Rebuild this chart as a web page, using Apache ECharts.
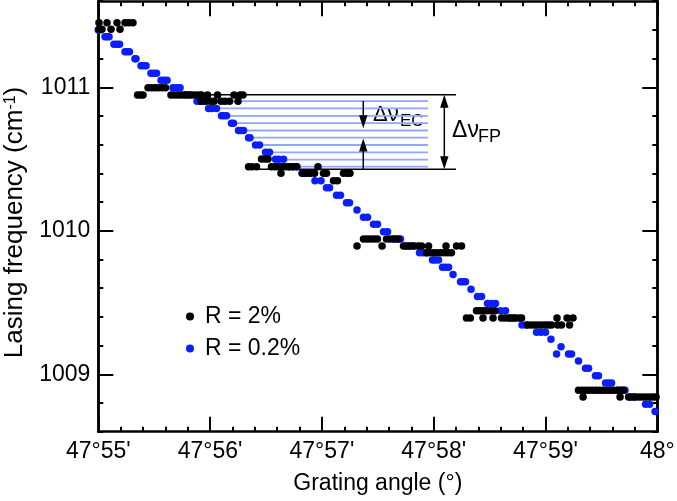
<!DOCTYPE html>
<html><head><meta charset="utf-8">
<script src="https://cdn.jsdelivr.net/npm/echarts@6/dist/echarts.min.js"></script>
<style>html,body{margin:0;padding:0;background:#fff}#c{width:677px;height:501px}</style>
</head><body><div id="c"></div>
<script>
// x values: minutes of arc after 47°55'
const xTickLabels = ["47°55'", "47°56'", "47°57'", "47°58'", "47°59'", "48°"];
const yMajorTicks = [1009, 1010, 1011];

const seriesR2 = [ // R = 2%
  [0.006,1011.450],[0.078,1011.450],[0.167,1011.450],[0.239,1011.450],[0.275,1011.450],[0.310,1011.450],
  [0.006,1011.404],[0.033,1011.404],[0.114,1011.404],[0.194,1011.404],
  [0.445,1010.997],[0.476,1010.997],[0.507,1010.997],[0.538,1010.997],[0.570,1010.997],[0.601,1010.997],
  [0.351,1010.946],[0.377,1010.946],[0.400,1010.946],[0.650,1010.946],[0.682,1010.946],[0.713,1010.946],[0.744,1010.946],
  [0.776,1010.946],[0.807,1010.946],[0.838,1010.946],[0.869,1010.946],[0.901,1010.946],[0.923,1010.946],[0.977,1010.946],
  [1.066,1010.946],[1.214,1010.946],[1.268,1010.946],[1.294,1010.946],
  [0.919,1010.902],[0.963,1010.902],[1.004,1010.902],[1.035,1010.902],[1.098,1010.902],[1.133,1010.902],[1.174,1010.902],[1.250,1010.902],
  [1.460,1010.500],[1.491,1010.500],[1.518,1010.500],
  [1.344,1010.447],[1.375,1010.447],[1.415,1010.447],[1.549,1010.447],[1.581,1010.447],[1.612,1010.447],[1.643,1010.447],
  [1.675,1010.447],[1.706,1010.447],[1.737,1010.447],[1.773,1010.447],[1.965,1010.447],
  [1.634,1010.401],[1.827,1010.401],[1.858,1010.401],[1.894,1010.401],[1.934,1010.401],[2.014,1010.401],[2.041,1010.401],
  [2.193,1010.401],[2.225,1010.401],[2.251,1010.401],
  [2.104,1010.349],[2.139,1010.349],
  [2.372,1009.943],[2.404,1009.943],[2.435,1009.943],[2.466,1009.943],[2.497,1009.943],[2.578,1009.943],[2.609,1009.943],
  [2.645,1009.943],[2.685,1009.943],
  [2.314,1009.894],[2.538,1009.894],[2.730,1009.894],[2.761,1009.894],[2.793,1009.894],[2.824,1009.894],[2.860,1009.894],
  [2.891,1009.894],[2.954,1009.894],[3.110,1009.894],[3.204,1009.894],[3.249,1009.894],
  [2.936,1009.847],[2.967,1009.847],[2.998,1009.847],[3.030,1009.847],[3.065,1009.847],[3.097,1009.847],[3.128,1009.847],[3.159,1009.847],
  [3.383,1009.443],[3.414,1009.443],[3.446,1009.443],[3.477,1009.443],[3.513,1009.443],[3.548,1009.443],
  [3.293,1009.392],[3.328,1009.392],[3.441,1009.392],[3.531,1009.392],[3.607,1009.392],[3.638,1009.392],[3.669,1009.392],
  [3.701,1009.392],[3.732,1009.392],[3.763,1009.392],[3.786,1009.392],[4.103,1009.392],[4.193,1009.392],[4.246,1009.392],
  [3.839,1009.344],[3.871,1009.344],[3.902,1009.344],[3.933,1009.344],[3.964,1009.344],[3.996,1009.344],[4.027,1009.344],
  [4.054,1009.344],[4.108,1009.344],[4.143,1009.344],[4.215,1009.344],
  [4.295,1008.889],[4.327,1008.889],[4.358,1008.889],[4.389,1008.889],[4.421,1008.889],[4.452,1008.889],[4.483,1008.889],
  [4.515,1008.889],[4.546,1008.889],[4.577,1008.889],[4.609,1008.889],[4.640,1008.889],[4.671,1008.889],[4.698,1008.889],
  [4.336,1008.842],[4.667,1008.842],[4.743,1008.842],[4.774,1008.842],[4.805,1008.842],[4.837,1008.842],[4.868,1008.842],
  [4.899,1008.842],[4.930,1008.842],[4.962,1008.842],[4.989,1008.842]
];

const seriesR02 = [ // R = 0.2%
  [0.000,1011.399],[0.015,1011.399],
  [0.060,1011.353],[0.078,1011.353],[0.096,1011.353],
  [0.140,1011.300],[0.167,1011.300],[0.190,1011.300],
  [0.239,1011.248],[0.257,1011.248],[0.279,1011.248],
  [0.328,1011.199],[0.337,1011.199],
  [0.382,1011.151],[0.404,1011.151],[0.427,1011.151],
  [0.471,1011.098],[0.498,1011.098],[0.521,1011.098],
  [0.561,1011.049],[0.588,1011.049],[0.615,1011.049],
  [0.668,1010.997],[0.700,1010.997],[0.731,1010.997],
  [0.776,1010.948],[0.811,1010.948],
  [0.883,1010.902],[0.910,1010.902],[0.937,1010.902],
  [0.986,1010.853],[1.017,1010.853],[1.057,1010.853],
  [1.102,1010.801],[1.124,1010.801],[1.147,1010.801],
  [1.191,1010.750],[1.209,1010.750],
  [1.254,1010.699],[1.276,1010.699],[1.299,1010.699],
  [1.344,1010.649],[1.357,1010.649],
  [1.406,1010.598],[1.442,1010.598],
  [1.496,1010.547],[1.531,1010.547],
  [1.585,1010.498],[1.616,1010.498],[1.657,1010.498],
  [1.706,1010.447],[1.742,1010.447],[1.777,1010.447],
  [1.822,1010.401],[1.858,1010.401],[1.894,1010.401],
  [1.938,1010.349],[1.992,1010.349],
  [2.041,1010.300],[2.068,1010.300],
  [2.131,1010.247],[2.166,1010.247],
  [2.220,1010.196],[2.247,1010.196],
  [2.314,1010.145],
  [2.372,1010.094],[2.408,1010.094],
  [2.462,1010.045],[2.497,1010.045],
  [2.551,1009.994],[2.587,1009.994],
  [2.641,1009.943],[2.672,1009.943],[2.703,1009.943],
  [2.743,1009.894],[2.779,1009.894],[2.815,1009.894],
  [2.873,1009.847],[2.904,1009.847],[2.936,1009.847],
  [2.989,1009.796],[3.012,1009.796],[3.043,1009.796],
  [3.079,1009.746],[3.106,1009.746],[3.133,1009.746],
  [3.173,1009.695],
  [3.240,1009.645],[3.262,1009.645],[3.285,1009.645],
  [3.334,1009.593],
  [3.392,1009.542],[3.428,1009.542],
  [3.481,1009.493],[3.517,1009.493],[3.553,1009.493],
  [3.598,1009.443],[3.642,1009.443],
  [3.683,1009.392],[3.718,1009.392],
  [3.790,1009.344],[3.826,1009.344],
  [3.920,1009.293],[3.960,1009.293],[4.000,1009.293],
  [4.049,1009.244],
  [4.139,1009.192],
  [4.099,1009.141],[4.206,1009.141],[4.233,1009.141],
  [4.295,1009.093],
  [4.358,1009.042],[4.385,1009.042],
  [4.447,1008.990],[4.474,1008.990],
  [4.537,1008.939],[4.564,1008.939],[4.591,1008.939],
  [4.649,1008.889],[4.685,1008.889],[4.711,1008.889],
  [4.756,1008.842],[4.792,1008.842],
  [4.895,1008.791],[4.931,1008.791],
  [4.980,1008.741]
];

// guide lines: [xStart, xEnd, frequency]
const ecLines = [
  [0.883,2.949,1010.904],[0.986,2.949,1010.853],[1.102,2.949,1010.801],[1.191,2.949,1010.750],
  [1.254,2.949,1010.699],[1.344,2.949,1010.649],[1.406,2.949,1010.598],[1.496,2.949,1010.547],
  [1.585,2.949,1010.496],[1.706,2.949,1010.447]
];
const fpLines = [[0.910,3.199,1010.948],[1.330,3.199,1010.429]];
// arrows: [x, fromFreq, tipFreq, headAtBothEnds]
const arrows = [[2.370,1010.905,1010.714,0],[2.370,1010.429,1010.643,0],[3.095,1010.948,1010.429,1]];
// annotation labels: [x, freq, main, subscript]
const notes = [[2.457,1010.807,'Δν','EC'],[3.164,1010.697,'Δν','FP']];

const FONT = 'Liberation Sans, Arial, Helvetica, sans-serif';
const chart = echarts.init(document.getElementById('c'), null, {renderer:'canvas'});
const axisLineStyle = {color:'#000', width:2.5};
const tickStyle = {color:'#000', width:2};

function xAxisCfg(pos, labels){
  return {
    type:'value', position:pos, min:0, max:5, interval:1,
    axisLine:{show:true, onZero:false, lineStyle:axisLineStyle},
    axisTick:{show:true, inside:true, length:15, lineStyle:tickStyle},
    minorTick:{show:true, splitNumber:5, length:5, lineStyle:tickStyle},
    splitLine:{show:false}, minorSplitLine:{show:false},
    axisLabel:{show:labels, color:'#000', fontSize:23, fontFamily:FONT, margin:8,
      formatter:(v)=>xTickLabels[Math.round(v)]},
    name: labels ? 'Grating angle (°)' : '',
    nameLocation:'middle', nameGap:40,
    nameTextStyle:{color:'#000', fontSize:23, fontFamily:FONT}
  };
}
function yAxisCfg(pos, major, labels){
  const c = {
    type:'value', position:pos, min:1008.6, max:1011.6,
    axisLine:{show:true, onZero:false, lineStyle:axisLineStyle},
    splitLine:{show:false},
    axisTick:{show:true, inside:true, length: major?15:5, lineStyle:tickStyle},
    axisLabel:{show:labels, color:'#000', fontSize:23, fontFamily:FONT, margin:8,
      formatter:(v)=>String(Math.round(v))},
    name:'', nameLocation:'middle'
  };
  if (major){
    c.axisTick.customValues = yMajorTicks;
    c.axisLabel.customValues = yMajorTicks;
  } else {
    c.interval = 0.2;
  }
  if (labels){
    c.name = 'Lasing frequency (cm{sup|-1})';
    c.nameGap = 58;
    c.nameTextStyle = {color:'#000', fontSize:26, fontFamily:FONT, padding:[0,12,0,0],
      rich:{sup:{fontSize:16, fontFamily:FONT, color:'#000', verticalAlign:'top', lineHeight:14}}};
  }
  return c;
}

const option = {
  animation:false,
  backgroundColor:'#fff',
  grid:{left:98.3, right:19.7, top:1.2, bottom:69.3, containLabel:false, outerBoundsMode:'none'},
  xAxis:[xAxisCfg('bottom', true), xAxisCfg('top', false)],
  yAxis:[yAxisCfg('left', true, true), yAxisCfg('left', false, false),
         yAxisCfg('right', true, false), yAxisCfg('right', false, false)],
  legend:{
    orient:'vertical', left:181, top:300, itemGap:9, itemWidth:8, itemHeight:8,
    icon:'circle', data:['R = 2%','R = 0.2%'],
    textStyle:{color:'#000', fontSize:23, fontFamily:FONT, padding:[0,0,0,6]}
  },
  series:[
    {type:'custom', name:'ec', xAxisIndex:0, yAxisIndex:0, clip:false, silent:true, z:1,
     encode:{x:[0,1], y:2}, data:ecLines,
     renderItem:(p, api)=>{
       const a = api.coord([api.value(0), api.value(2)]);
       const b = api.coord([api.value(1), api.value(2)]);
       return {type:'line', shape:{x1:a[0],y1:a[1],x2:b[0],y2:b[1]}, style:{stroke:'#93a6ff', lineWidth:1.8}};
     }},
    {type:'custom', name:'fp', xAxisIndex:0, yAxisIndex:0, clip:false, silent:true, z:1,
     encode:{x:[0,1], y:2}, data:fpLines,
     renderItem:(p, api)=>{
       const a = api.coord([api.value(0), api.value(2)]);
       const b = api.coord([api.value(1), api.value(2)]);
       return {type:'line', shape:{x1:a[0],y1:a[1],x2:b[0],y2:b[1]}, style:{stroke:'#000', lineWidth:1.5}};
     }},
    {type:'custom', name:'arrows', xAxisIndex:0, yAxisIndex:0, clip:false, silent:true, z:5,
     encode:{x:0, y:[1,2]}, data:arrows,
     renderItem:(p, api)=>{
       const a = api.coord([api.value(0), api.value(1)]);
       const b = api.coord([api.value(0), api.value(2)]);
       const both = api.value(3) > 0;
       const L = 13, W = 4.2;
       const dy = b[1] > a[1] ? 1 : -1;
       const kids = [];
       const y1 = both ? a[1] + dy*L*0.8 : a[1];
       kids.push({type:'line', shape:{x1:a[0], y1:y1, x2:b[0], y2:b[1]-dy*L*0.8}, style:{stroke:'#000', lineWidth:1.5}});
       kids.push({type:'polygon', shape:{points:[[b[0],b[1]],[b[0]-W,b[1]-dy*L],[b[0]+W,b[1]-dy*L]]}, style:{fill:'#000'}});
       if (both) kids.push({type:'polygon', shape:{points:[[a[0],a[1]],[a[0]-W,a[1]+dy*L],[a[0]+W,a[1]+dy*L]]}, style:{fill:'#000'}});
       return {type:'group', children:kids};
     }},
    {type:'scatter', name:'R = 0.2%', xAxisIndex:0, yAxisIndex:0, data:seriesR02, symbol:'circle', symbolSize:7.5,
     itemStyle:{color:'#0a1eff', opacity:1}, z:3, clip:false},
    {type:'scatter', name:'R = 2%', xAxisIndex:0, yAxisIndex:0, data:seriesR2, symbol:'circle', symbolSize:7.5,
     itemStyle:{color:'#000', opacity:1}, z:4, clip:false}
  ]
};
chart.setOption(option);

const g = notes.map((n, i)=>{
  const p = chart.convertToPixel({xAxisIndex:0, yAxisIndex:0}, [n[0], n[1]]);
  const mainSize = i === 0 ? 22 : 23;
  const subSize = i === 0 ? 17 : 18;
  const dx = i === 0 ? 27 : 26;
  return {type:'group', x:p[0], y:p[1], silent:true, z:10, children:[
    {type:'text', x:0, y:0, style:{text:n[2], fill:'#000', font:mainSize+'px '+FONT, textAlign:'left', textVerticalAlign:'middle'}},
    {type:'text', x:dx, y:6.5, style:{text:n[3], fill:'#000', font:subSize+'px '+FONT, textAlign:'left', textVerticalAlign:'middle'}}
  ]};
});
chart.setOption({graphic:g});
</script></body></html>
